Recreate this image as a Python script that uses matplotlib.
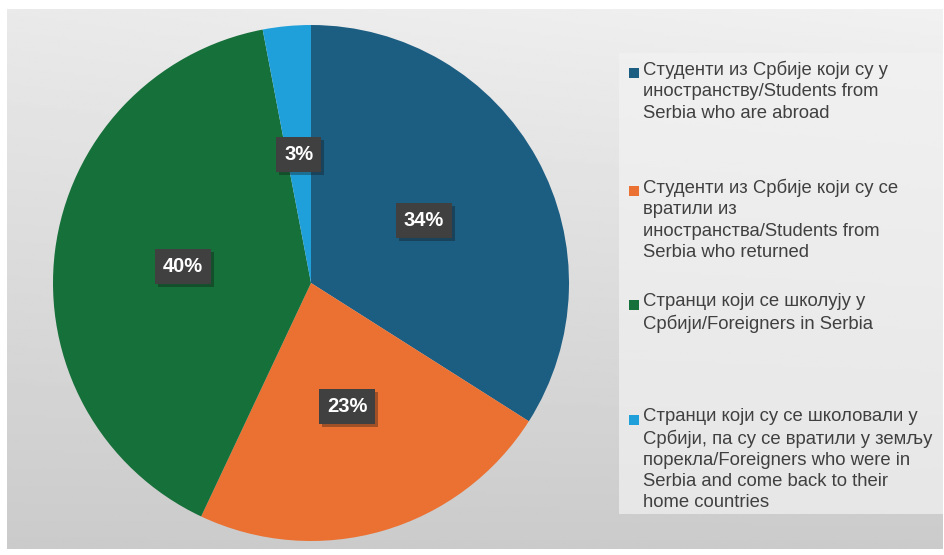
import numpy as np
import matplotlib
matplotlib.use("Agg")
import matplotlib.pyplot as plt
from matplotlib.patches import Rectangle
import matplotlib.patheffects as pe

plt.rcParams['font.family'] = ['Liberation Sans', 'DejaVu Sans']

categories = [
    "Студенти из Србије који су у\nиностранству/Students from\nSerbia who are abroad",
    "Студенти из Србије који су се\nвратили из\nиностранства/Students from\nSerbia who returned",
    "Странци који се школују у\nСрбији/Foreigners in Serbia",
    "Странци који су се школовали у\nСрбији, па су се вратили у земљу\nпорекла/Foreigners who were in\nSerbia and come back to their\nhome countries",
]
values = [34, 23, 40, 3]
colors = ['#1C5D82', '#EA7132', '#16703A', '#20A0DA']

W, H = 945, 555
fig = plt.figure(figsize=(W / 100, H / 100), dpi=100)
fig.patch.set_facecolor('white')

# background gradient panel
bg = fig.add_axes([7 / W, 6 / H, (943 - 7) / W, (548 - 8) / H])
bg.set_axis_off()
yy, xx = np.mgrid[0:1:200j, 0:1:300j]
grad = 0.915 - 0.12 * yy + 0.03 * xx * (1 - yy)
bg.imshow(grad, cmap='gray', vmin=0, vmax=1, aspect='auto', extent=[0, 1, 0, 1], origin='upper')
bg.set_xlim(0, 1)
bg.set_ylim(0, 1)

# legend panel
fig.patches.append(Rectangle((619 / W, (H - 514) / H), (943 - 619) / W, (514 - 53) / H,
                             transform=fig.transFigure, facecolor='#f2f2f2', alpha=0.7,
                             edgecolor='none', zorder=1))

# pie
cx, cy, r = 311, 283, 258
ax = fig.add_axes([(cx - r) / W, (H - cy - r) / H, 2 * r / W, 2 * r / H])
wedges, texts, autotexts = ax.pie(values, colors=colors, startangle=90, counterclock=False,
                                  autopct=lambda p: f'{p:.0f}%', pctdistance=0.5,
                                  wedgeprops=dict(linewidth=0))
ax.set_xlim(-1, 1)
ax.set_ylim(-1, 1)
ax.set_aspect('auto')
for t in autotexts:
    t.set_color('white')
    t.set_fontsize(14.5)
    t.set_fontweight('bold')
    t.set_bbox(dict(boxstyle='square,pad=0.4', facecolor='#404040', edgecolor='none'))
    t.get_bbox_patch().set_path_effects([pe.SimplePatchShadow(offset=(2, -2), alpha=0.35), pe.Normal()])

# legend entries
starts = [73, 191, 305, 420]
for lab, col, y0 in zip(categories, colors, starts):
    fig.patches.append(Rectangle((629 / W, (H - y0 - 5) / H), 10 / W, 10 / H,
                                 transform=fig.transFigure, facecolor=col, edgecolor='none', zorder=3))
    fig.text(643 / W, (H - y0 + 12) / H, lab, ha='left', va='top', fontsize=13.3,
             color='#404040', linespacing=1.32, zorder=4)

fig.savefig('out.png', dpi=100)
